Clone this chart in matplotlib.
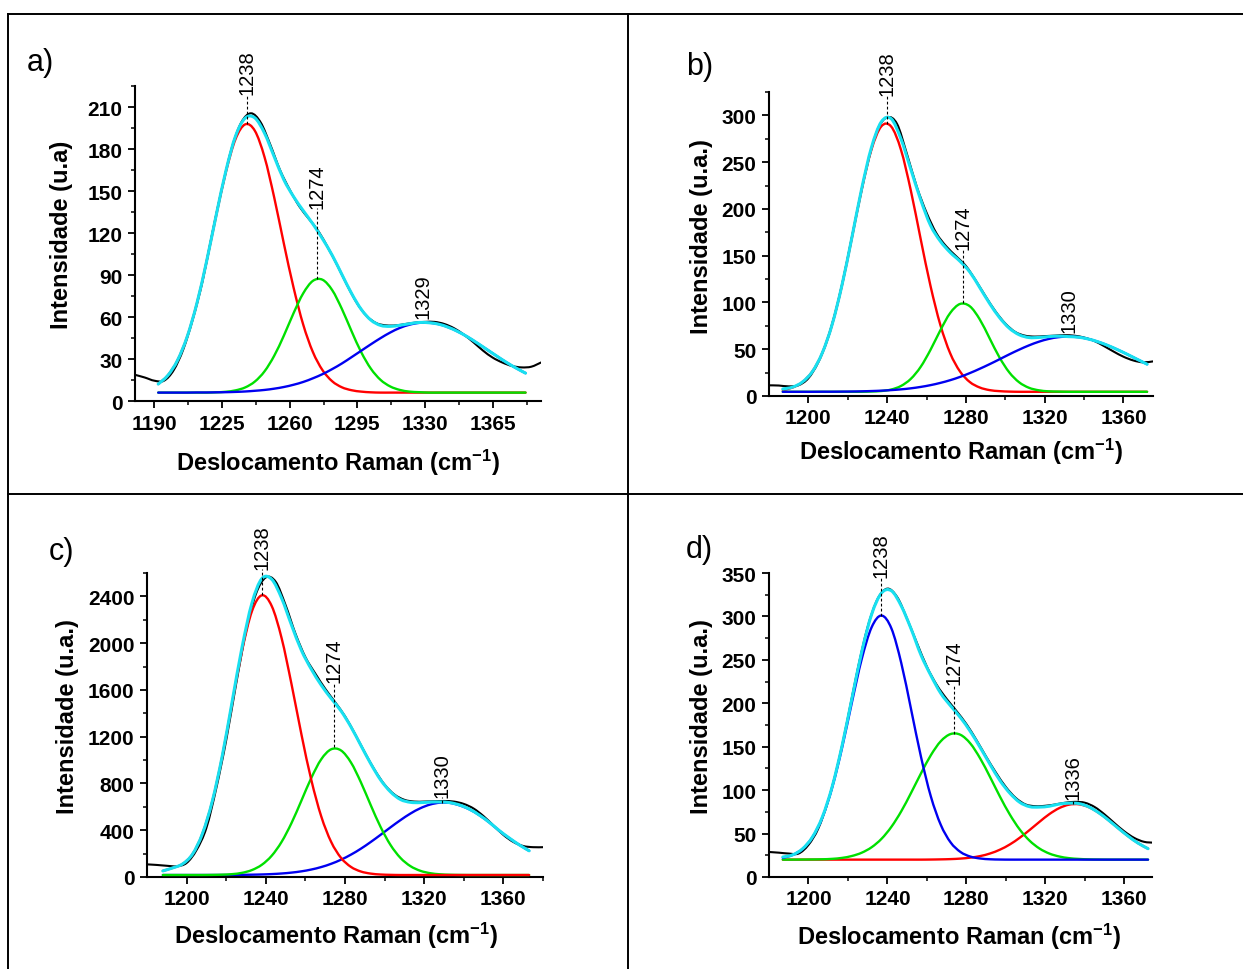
import numpy as np
import matplotlib
matplotlib.use("Agg")
import matplotlib.pyplot as plt
from matplotlib.lines import Line2D
from matplotlib.path import Path
from matplotlib.patches import PathPatch

plt.rcParams["font.family"] = ["Liberation Sans", "DejaVu Sans"]
plt.rcParams["mathtext.fontset"] = "custom"
plt.rcParams["mathtext.rm"] = "Liberation Sans:bold"
plt.rcParams["mathtext.it"] = "Liberation Sans:bold"
plt.rcParams["mathtext.bf"] = "Liberation Sans:bold"

# ---------------- panel a ----------------
xk_a = np.arange(1180, 1391, 5)
black_a = [18.7, 16.8, 14.5, 14.5, 22, 37, 59, 86, 120, 152, 180.5, 199, 205.5, 199, 183,
           165, 151, 139, 130, 121, 109, 96, 82, 69.5, 60.5, 55.5, 54, 54, 55, 56, 56.5,
           56.5, 55, 52, 47.5, 42, 36, 31, 27.5, 25, 24, 24.5, 27.5]
x_a = np.arange(1192, 1383, 5)
red_a = [12.1, 18.3, 29.1, 46.0, 69.6, 99.5, 132.4, 163.4, 187.1, 197.6, 193.0, 174.2, 145.4,
         112.4, 81.1, 54.6, 35.0, 22.0, 14.1, 9.8, 7.7, 6.7, 6.2, 6, 6, 6, 6, 6, 6, 6, 6, 6,
         6, 6, 6, 6, 6, 6, 6]
green_a = [6, 6, 6, 6, 6, 6, 6.2, 6.6, 7.6, 9.7, 13.9, 21.2, 32.3, 46.7, 62.7, 76.9, 85.8,
           86.6, 79.2, 65.8, 49.9, 34.9, 23.1, 15.1, 10.4, 7.9, 6.7, 6.3, 6, 6, 6, 6, 6, 6,
           6, 6, 6, 6, 6]
blue_a = [6.0, 6.0, 6.0, 6.0, 6.1, 6.1, 6.2, 6.3, 6.5, 6.8, 7.3, 7.9, 8.8, 10.0, 11.6, 13.6,
          16.2, 19.2, 22.8, 26.8, 31.3, 35.9, 40.5, 44.9, 48.9, 52.2, 54.5, 55.8, 55.9, 54.9,
          52.7, 49.6, 45.8, 41.4, 36.8, 32.2, 27.7, 23.6, 19.9]
cyan_a = [12.1, 18.3, 29.1, 46.0, 69.7, 99.6, 132.8, 164.3, 189.2, 202.1, 202.2, 191.3, 174.5,
          158, 146, 136, 126.5, 115.8, 104.1, 90.4, 76.9, 65.5, 57.8, 54.0, 53.3, 54.1, 55.2,
          56.1, 55.9, 54.9, 52.7, 49.6, 45.8, 41.4, 36.8, 32.2, 27.7, 23.6, 19.9]
peak_a = [1238, 1274, 1329]
base_a = [197.6, 87.3, 56]
top_a = [219, 138, 59]
labels_a = ["1238", "1274", "1329"]

# ---------------- panel b ----------------
xk_b = np.arange(1180, 1376, 5)
black_b = [11.4, 11.2, 10.3, 11.5, 19, 36, 62.5, 100, 148, 200, 248, 284, 298, 291, 259, 224,
           196, 174, 160, 149.5, 139, 123.5, 106.5, 90.5, 77.5, 68.5, 64.5, 63.5, 64, 64.5, 65,
           64.5, 62.5, 59, 53.5, 47.5, 42, 38, 36, 37]
x_b = np.arange(1187, 1373, 5)
red_b = [6.3, 9.1, 14.9, 26.2, 45.7, 76.1, 117.8, 168.0, 219.9, 263.3, 288.2, 288.2, 263.3,
         219.9, 168.0, 117.8, 76.1, 45.7, 26.2, 14.9, 9.1, 6.3, 5.2, 4.7, 4.5, 4.5, 4.5, 4.5,
         4.5, 4.5, 4.5, 4.5, 4.5, 4.5, 4.5, 4.5, 4.5, 4.5]
green_b = [4.5, 4.5, 4.5, 4.5, 4.5, 4.5, 4.5, 4.5, 4.5, 4.8, 5.3, 6.9, 10.7, 18.3, 31.1, 49.3,
           70.2, 88.7, 98.4, 95.9, 82.0, 61.8, 41.4, 25.3, 14.7, 8.8, 6.1, 5.0, 4.7, 4.5, 4.5,
           4.5, 4.5, 4.5, 4.5, 4.5, 4.5, 4.5]
blue_b = [4.5, 4.5, 4.5, 4.5, 4.6, 4.6, 4.7, 4.8, 5.0, 5.3, 5.7, 6.3, 7.1, 8.2, 9.7, 11.6, 14.0,
          16.9, 20.4, 24.5, 29.1, 34.0, 39.2, 44.5, 49.5, 54.1, 58.0, 61.0, 62.9, 63.5, 62.9,
          61.0, 58.0, 54.1, 49.5, 44.5, 39.2, 34.0]
cyan_b = [7.5, 9.5, 15, 26, 45.8, 76, 118, 168.5, 221, 265.5, 293, 296.5, 275, 242.5, 210,
          182.5, 165.5, 153.5, 144, 132.5, 116, 99, 84, 72.5, 65.5, 62.5, 62.6, 63.5, 64, 63.5,
          62.9, 61.0, 58.0, 54.1, 49.5, 44.5, 39.2, 34.0]
peak_b = [1240, 1278.4, 1332.3]
base_b = [291, 99, 64]
top_b = [322, 157, 68]
labels_b = ["1238", "1274", "1330"]

# ---------------- panel c ----------------
xk_c = np.arange(1180, 1381, 5)
black_c = [108, 103, 96, 92, 120, 230, 420, 760, 1170, 1650, 2100, 2420, 2562, 2525, 2325, 2080,
           1880, 1740, 1610, 1495, 1375, 1225, 1065, 915, 790, 705, 660, 645, 645, 648, 650,
           645, 625, 585, 520, 440, 360, 300, 265, 255, 255]
x_c = np.arange(1188, 1374, 5)
red_c = [52, 78, 112, 195.9, 370.8, 648.5, 1031.2, 1486.6, 1934.7, 2273.1, 2409.0, 2317.2,
         2041.8, 1648.3, 1219.2, 828.6, 518.4, 300.5, 163.6, 86.4, 47.1, 29.0, 21.3, 18.4, 17,
         17, 17, 17, 17, 17, 17, 17, 17, 17, 17, 17, 17, 17]
green_c = [17, 17, 17, 17, 17, 17.9, 19.8, 24.5, 35.7, 59.5, 104.7, 182.3, 301.0, 462.1, 653.8,
           848.3, 1006.9, 1092.1, 1082.2, 979.8, 811.0, 614.4, 426.9, 273.6, 163.5, 93.4, 53.3,
           32.7, 23.2, 19.3, 17.7, 17, 17, 17, 17, 17, 17, 17]
blue_c = [17, 17, 17, 17, 17.1, 17.2, 17.5, 17.9, 18.6, 19.8, 21.8, 25.0, 30.0, 37.6, 48.5, 64.0,
          85.1, 112.9, 148.1, 191.3, 241.9, 299.5, 361.2, 425.0, 486.3, 542.1, 587.7, 619.8,
          635.6, 633.8, 612, 577, 527, 465, 395, 332, 275, 224]
cyan_c = [52, 78, 112, 196, 371, 650, 1035, 1500, 1965, 2343, 2552, 2546, 2384, 2154, 1938,
          1777, 1641, 1527, 1420, 1284, 1126, 969, 830, 728, 663, 639, 636, 641, 642, 636, 615,
          579, 528, 466, 396, 333, 275, 224]
peak_c = [1238.3, 1274.6, 1329.2]
base_c = [2409, 1109, 637]
top_c = [2637, 1666, 680]
labels_c = ["1238", "1274", "1330"]

# ---------------- panel d ----------------
xk_d = np.arange(1180, 1376, 5)
black_d = [28.8, 28, 27, 27, 37, 56, 88, 131, 184, 240, 288, 320, 332, 322, 297, 269, 242, 221,
           205, 191, 176, 158, 138.5, 120, 103.5, 91, 83.5, 81.5, 82, 83.5, 85.5, 86.5, 85.5,
           80.5, 72, 62, 52.5, 45, 40.5, 39.5]
x_d = np.arange(1187, 1373, 5)
blue_d = [22.1, 25.4, 32.3, 45.7, 68.4, 102.9, 148.6, 201.1, 251.2, 287.6, 301.0, 286.2, 246.3,
          192.7, 138.2, 92.6, 60.1, 39.8, 28.8, 23.5, 21.3, 20.4, 20.1, 20, 20, 20, 20, 20, 20,
          20, 20, 20, 20, 20, 20, 20, 20, 20]
green_d = [20, 20, 20.1, 20.2, 20.4, 20.9, 22.0, 24.2, 28.0, 34.3, 44.0, 57.8, 75.7, 97.0, 119.4,
           140.3, 156.3, 164.6, 163.7, 153.7, 136.4, 115.0, 92.5, 71.9, 54.7, 41.8, 32.8, 27.0,
           23.6, 21.7, 20.8, 20.3, 20.1, 20, 20, 20, 20, 20]
red_d = [20, 20, 20, 20, 20, 20, 20, 20, 20, 20, 20, 20, 20, 20, 20, 20.1, 20.3, 20.6, 21.2,
         22.3, 24.1, 27.1, 31.5, 37.5, 45.2, 54.1, 63.5, 72.4, 79.3, 83.3, 83.7, 80.4, 73.9,
         65.4, 56.0, 46.9, 38.9, 32.6]
cyan_d = [23, 25.5, 32.5, 46, 69, 104, 151, 205.5, 259.5, 302.5, 327, 329.5, 312, 285.5, 255.5,
          232, 211.5, 197, 183.5, 167.5, 149, 129.5, 111, 96.5, 86, 81, 80.5, 81.5, 84, 85, 84.5,
          80.7, 74, 65.4, 56, 46.9, 38.9, 32.6]
peak_d = [1236.9, 1273.8, 1333.9]
base_d = [301, 165, 84]
top_d = [345, 222, 89.5]
labels_d = ["1238", "1274", "1336"]

W, H = 1243, 970
RED, GREEN, BLUE, CYAN = "#ff0000", "#00e000", "#0000f0", "#18e0f0"

fig = plt.figure(figsize=(W / 100, H / 100), dpi=100)

# table frame
for x0, y0, x1, y1 in [(8, 15, 1243, 15), (8, 15, 8, 970), (628, 15, 628, 970), (8, 495, 1243, 495)]:
    fig.add_artist(Line2D([x0 / W, x1 / W], [1 - y0 / H, 1 - y1 / H], color="black", lw=1.4))


def smooth_line(ax, x, y, color, lw, z):
    # spline-style connection of the points (like Origin's smoothed line)
    p = np.column_stack([np.asarray(x, float), np.asarray(y, float)])
    q = np.vstack([p[0], p, p[-1]])
    verts = [p[0]]
    codes = [Path.MOVETO]
    for i in range(1, len(q) - 2):
        c1 = q[i] + (q[i + 1] - q[i - 1]) / 6.0
        c2 = q[i + 1] - (q[i + 2] - q[i]) / 6.0
        verts += [c1, c2, q[i + 1]]
        codes += [Path.CURVE4] * 3
    ax.add_patch(PathPatch(Path(verts, codes), facecolor="none", edgecolor=color, lw=lw,
                           zorder=z, capstyle="round", joinstyle="round"))


def panel(box, xk, yk, xf, comps, cyan, xlim, ylim, xmaj, xmin, ymaj, ymin,
          peaks, bases, tops, labels, letter, lpos, ylab, ylpos, xlpos):
    l, t, r, b = box
    ax = fig.add_axes([l / W, 1 - b / H, (r - l) / W, (b - t) / H])
    smooth_line(ax, xk, yk, "black", 1.5, 1)
    for z, (y, c) in enumerate(comps):
        smooth_line(ax, xf, y, c, 1.7, 2 + z)
    smooth_line(ax, xf, cyan, CYAN, 2.2, 6)
    for px, pb, pt, s in zip(peaks, bases, tops, labels):
        if pt - pb > 5:
            ax.plot([px, px], [pb, pt], color="black", lw=0.8, ls=(0, (2.5, 2)),
                    zorder=7, clip_on=False)
        ax.text(px, pt, s, rotation=90, rotation_mode="anchor", ha="left", va="center",
                fontsize=14.5, clip_on=False, zorder=8)
    ax.set_xlim(*xlim)
    ax.set_ylim(*ylim)
    ax.set_xticks(xmaj)
    ax.set_xticks(xmin, minor=True)
    ax.set_yticks(ymaj)
    ax.set_yticks(ymin, minor=True)
    ax.tick_params(which="major", direction="out", length=5, width=1.3, labelsize=15, pad=4)
    ax.tick_params(which="minor", direction="out", length=3, width=1.1)
    for lb in ax.get_xticklabels() + ax.get_yticklabels():
        lb.set_fontweight("bold")
    for s in ["top", "right"]:
        ax.spines[s].set_visible(False)
    for s in ["left", "bottom"]:
        ax.spines[s].set_linewidth(1.5)
    ax.set_xlabel(r"Deslocamento Raman (cm$^{-1}$)", fontsize=17, fontweight="bold")
    ax.xaxis.label.set_va("center")
    ax.xaxis.set_label_coords(*xlpos)
    ax.set_ylabel(ylab, fontsize=17, fontweight="bold")
    ax.yaxis.label.set_va("center")
    ax.yaxis.set_label_coords(*ylpos)
    fig.text(lpos[0] / W, 1 - lpos[1] / H, letter, fontsize=22, ha="left", va="center")
    return ax


panel((135, 87, 541, 402), xk_a, black_a, x_a,
      [(red_a, RED), (green_a, GREEN), (blue_a, BLUE)], cyan_a,
      (1180, 1390), (0, 225), np.arange(1190, 1366, 35), np.arange(1207.5, 1390, 35),
      np.arange(0, 211, 30), np.arange(15, 226, 30),
      peak_a, base_a, top_a, labels_a, "a)", (27, 63), "Intensidade (u.a)", (-0.182, 0.53),
      (0.5, -0.194))
panel((769, 93, 1153, 397), xk_b, black_b, x_b,
      [(red_b, RED), (green_b, GREEN), (blue_b, BLUE)], cyan_b,
      (1180, 1375), (0, 325), np.arange(1200, 1361, 40), np.arange(1220, 1375, 40),
      np.arange(0, 301, 50), np.arange(25, 326, 50),
      peak_b, base_b, top_b, labels_b, "b)", (686, 67), "Intensidade (u.a.)", (-0.176, 0.528),
      (0.5, -0.181))
panel((147, 574, 543, 878), xk_c, black_c, x_c,
      [(blue_c, BLUE), (green_c, GREEN), (red_c, RED)], cyan_c,
      (1180, 1380), (0, 2600), np.arange(1200, 1361, 40), np.arange(1220, 1381, 40),
      np.arange(0, 2401, 400), np.arange(200, 2601, 400),
      peak_c, base_c, top_c, labels_c, "c)", (49, 552), "Intensidade (u.a.)", (-0.201, 0.531),
      (0.478, -0.189))
panel((769, 574, 1152, 878), xk_d, black_d, x_d,
      [(red_d, RED), (green_d, GREEN), (blue_d, BLUE)], cyan_d,
      (1180, 1374), (0, 350), np.arange(1200, 1361, 40), np.arange(1220, 1374, 40),
      np.arange(0, 351, 50), np.arange(25, 351, 50),
      peak_d, base_d, top_d, labels_d, "d)", (686, 550), "Intensidade (u.a.)", (-0.177, 0.531),
      (0.497, -0.195))

fig.savefig("out.png", dpi=100)
